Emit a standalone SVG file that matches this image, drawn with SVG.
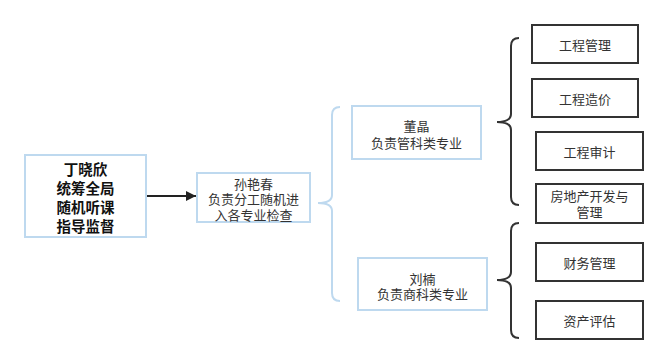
<svg xmlns="http://www.w3.org/2000/svg" width="667" height="364" viewBox="0 0 667 364">
<defs>
<style>
text{font-family:"Microsoft YaHei","Noto Sans CJK SC",sans-serif;font-size:13px;fill:#333;text-anchor:middle;dominant-baseline:central}
.blue{fill:#fff;stroke:#bed9ef;stroke-width:2}
.dark{fill:#fff;stroke:#333;stroke-width:2}
.bold{font-size:14.5px;font-weight:bold;fill:#111}
.brb{fill:none;stroke:#bed9ef;stroke-width:2}
.brd{fill:none;stroke:#333;stroke-width:2}
</style>
<marker id="ah" viewBox="0 0 10 10" refX="10" refY="5" markerWidth="10" markerHeight="10" markerUnits="userSpaceOnUse" orient="auto"><path d="M0,0 L10,5 L0,10 Z" fill="#222"/></marker>
</defs>
<rect width="667" height="364" fill="#fff"/>
<g id="connectors">
<line x1="146" y1="196" x2="196" y2="196" stroke="#222" stroke-width="2" marker-end="url(#ah)"/>
<path class="brb" d="M340,107 Q332,107 332,115 L332,195 Q332,203 318,203 Q332,203 332,211 L332,293 Q332,301 340,301"/>
<path class="brd" d="M519,38 Q511,38 511,46 L511,114 Q511,122 497,122 Q511,122 511,130 L511,197 Q511,205 519,205"/>
<path class="brd" d="M519,223 Q511,223 511,231 L511,272 Q511,280 497,280 Q511,280 511,288 L511,330 Q511,338 519,338"/>
</g>
<g id="n1"><rect class="blue" x="25" y="155" width="121" height="82"/>
<text class="bold" x="85.5" y="168">丁晓欣</text><text class="bold" x="85.5" y="187">统筹全局</text><text class="bold" x="85.5" y="206">随机听课</text><text class="bold" x="85.5" y="225">指导监督</text></g>
<g id="n2"><rect class="blue" x="197" y="173" width="113" height="49"/>
<text x="253.5" y="183">孙艳春</text><text x="253.5" y="198.5">负责分工随机进</text><text x="253.5" y="214">入各专业检查</text></g>
<g id="n3"><rect class="blue" x="352" y="106" width="129" height="53"/>
<text x="416.5" y="125">董晶</text><text x="416.5" y="142">负责管科类专业</text></g>
<g id="n4"><rect class="blue" x="358" y="258" width="129" height="52"/>
<text x="422.5" y="278">刘楠</text><text x="422.5" y="293.5">负责商科类专业</text></g>
<g id="n5"><rect class="dark" x="532" y="25" width="106" height="38"/><text x="585" y="44">工程管理</text></g>
<g id="n6"><rect class="dark" x="532" y="79" width="106" height="38"/><text x="585" y="98">工程造价</text></g>
<g id="n7"><rect class="dark" x="536" y="132" width="107" height="38"/><text x="589.5" y="151">工程审计</text></g>
<g id="n8"><rect class="dark" x="536" y="184" width="107" height="39"/><text x="589.5" y="195">房地产开发与</text><text x="589.5" y="211.5">管理</text></g>
<g id="n9"><rect class="dark" x="536" y="243" width="107" height="38"/><text x="589.5" y="262">财务管理</text></g>
<g id="n10"><rect class="dark" x="536" y="301" width="107" height="38"/><text x="589.5" y="320">资产评估</text></g>
</svg>
